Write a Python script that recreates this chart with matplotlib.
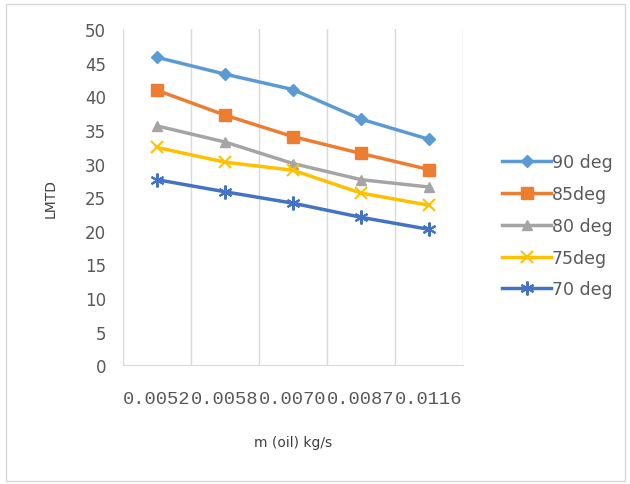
import numpy as np
import matplotlib
matplotlib.use("Agg")
import matplotlib.pyplot as plt
from matplotlib.patches import Rectangle

categories = ["0.0052", "0.0058", "0.0070", "0.0087", "0.0116"]
series_names = ["90 deg", "85deg", "80 deg", "75deg", "70 deg"]
deg90 = [45.8, 43.3, 41.0, 36.6, 33.6]
deg85 = [40.9, 37.2, 34.0, 31.5, 29.1]
deg80 = [35.6, 33.2, 30.0, 27.6, 26.5]
deg75 = [32.4, 30.2, 29.0, 25.6, 23.8]
deg70 = [27.6, 25.8, 24.1, 22.0, 20.2]

colors = ["#5B9BD5", "#ED7D31", "#A5A5A5", "#FFC000", "#4472C4"]
markers = ["D", "s", "^", "x", (6, 2, 0)]
msizes = [6, 8, 7, 8, 10]

fig = plt.figure(figsize=(6.3, 4.85), dpi=100)
ax = fig.add_axes([0.195, 0.245, 0.54, 0.693])

x = np.arange(len(categories))
for vals, name, c, m, ms in zip([deg90, deg85, deg80, deg75, deg70],
                                series_names, colors, markers, msizes):
    ax.plot(x, vals, color=c, lw=2.5, marker=m, markersize=ms,
            markeredgewidth=1.5 if m in ("x",) or isinstance(m, tuple) else 1,
            markeredgecolor=c, markerfacecolor=c, label=name)

ax.set_xlim(-0.5, len(categories) - 0.5)
ax.set_ylim(0, 50)
ax.set_yticks(np.arange(0, 51, 5))
ax.set_xticks(x)
ax.set_xticklabels(categories, family="Liberation Mono", fontsize=13.5, color="#595959")
ax.set_xticks(np.arange(-0.5, len(categories), 1), minor=True)
ax.grid(which="minor", axis="x", color="#D9D9D9", lw=1)
ax.tick_params(axis="both", which="both", length=0)
ax.tick_params(axis="y", labelsize=12, labelcolor="#595959", pad=12)
ax.tick_params(axis="x", pad=18)
for s in ["top", "right", "left"]:
    ax.spines[s].set_visible(False)
ax.spines["bottom"].set_color("#D9D9D9")

ax.set_ylabel("LMTD", fontsize=10, color="#404040", labelpad=20)
ax.set_xlabel("m (oil) kg/s", fontsize=10, color="#404040", labelpad=20)

leg = ax.legend(loc="center left", bbox_to_anchor=(1.07, 0.415), frameon=False,
                fontsize=12.5, labelspacing=0.8, handlelength=2.8, handletextpad=0.05)
for t in leg.get_texts():
    t.set_color("#595959")

fig.patches.append(Rectangle((0.01, 0.006), 0.982, 0.984, transform=fig.transFigure,
                             fill=False, edgecolor="#D9D9D9", lw=1))

fig.savefig("out.png", dpi=100)
